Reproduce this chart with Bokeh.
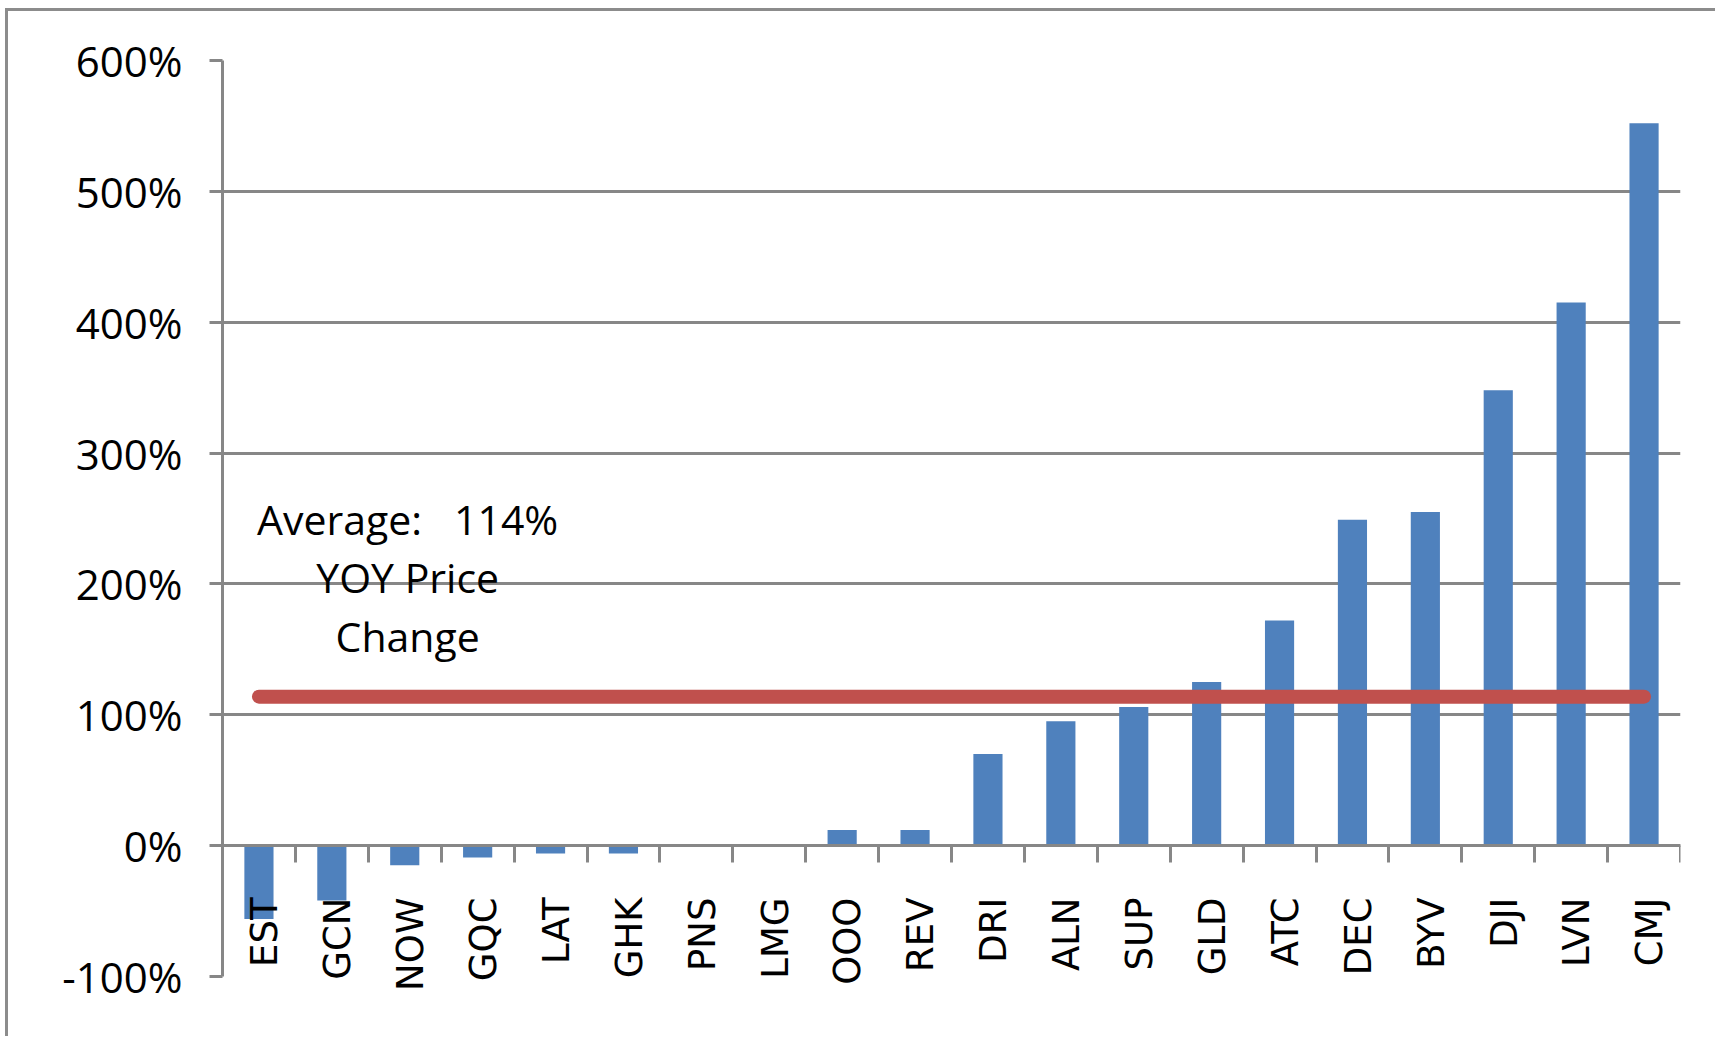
import math
from bokeh.plotting import figure
from bokeh.models import (ColumnDataSource, Range1d, LinearAxis, FixedTicker,
                          PrintfTickFormatter, Label)
from bokeh.embed import file_html
from bokeh.resources import INLINE

# ---- data ----
categories = ["EST", "GCN", "NOW", "GQC", "LAT", "GHK", "PNS", "LMG", "OOO", "REV",
              "DRI", "ALN", "SUP", "GLD", "ATC", "DEC", "BYV", "DJI", "LVN", "CMJ"]
price_change = [-56, -42, -15, -9, -6, -6, 0, 0, 12, 12,
                70, 95, 106, 125, 172, 249, 255, 348, 415, 552]
y_ticks = [-100, 0, 100, 200, 300, 400, 500, 600]

idx = list(range(len(categories)))
avg = sum(price_change) / len(price_change)

GRAY = "#878787"
BAR = "#4F81BD"
RED = "#C0504D"

src = ColumnDataSource(dict(x=idx, top=price_change))

p = figure(width=1710, height=1028, output_backend="svg", toolbar_location=None,
           x_range=Range1d(-0.5, len(categories) - 0.5), y_range=Range1d(-100, 600),
           x_axis_type=None,
           min_border_left=214, min_border_right=38, min_border_top=49,
           min_border_bottom=63)
p.outline_line_color = None
p.background_fill_color = "white"
p.border_fill_color = "white"
p.styles = {"border-left": "3px solid #8c8c8c", "border-top": "3px solid #8c8c8c",
            "margin-left": "5px", "margin-top": "8px"}

# y axis
yt = FixedTicker(ticks=y_ticks)
p.yaxis.ticker = yt
p.yaxis.formatter = PrintfTickFormatter(format="%d%%")
p.yaxis.axis_line_color = GRAY
p.yaxis.axis_line_width = 3
p.yaxis.major_tick_line_color = GRAY
p.yaxis.major_tick_line_width = 3
p.yaxis.major_tick_out = 13
p.yaxis.major_tick_in = 0
p.yaxis.minor_tick_line_color = None
p.yaxis.major_label_standoff = 27
p.yaxis.major_label_text_font = "Open Sans"
p.yaxis.major_label_text_font_size = "42px"
p.yaxis.major_label_text_color = "black"
p.ygrid.ticker = yt
p.ygrid.grid_line_color = GRAY
p.ygrid.grid_line_width = 3

# x axis line at zero with tick marks between categories (no labels)
bounds = [i + 0.5 for i in idx]
zero_axis = LinearAxis(fixed_location=0,
                       ticker=FixedTicker(ticks=[], minor_ticks=bounds),
                       major_tick_line_color=None,
                       minor_tick_out=17, minor_tick_in=0,
                       minor_tick_line_color=GRAY, minor_tick_line_width=3,
                       axis_line_color=GRAY, axis_line_width=3)
p.add_layout(zero_axis, "below")

# category labels: axis in the bottom panel, labels pulled up under the zero line
label_pos = [i + 0.08 for i in idx]   # small optical nudge of the rotated glyphs
label_axis = LinearAxis(ticker=FixedTicker(ticks=label_pos),
                        major_label_overrides={x: c for x, c in zip(label_pos, categories)},
                        major_label_orientation=math.pi / 2,
                        major_label_standoff=-79,
                        major_label_text_font="DejaVu Sans",
                        major_label_text_font_size="37px",
                        major_label_text_color="black",
                        major_tick_out=0, major_tick_in=0,
                        major_tick_line_color=None,
                        minor_tick_line_color=None,
                        axis_line_color=None)
p.add_layout(label_axis, "below")

# bars
p.vbar(x="x", top="top", bottom=0, width=0.4, source=src,
       fill_color=BAR, line_color=None)

# average line
p.line(x=[idx[0], idx[-1]], y=[avg, avg], line_color=RED, line_width=14,
       line_cap="round")

# annotation
p.add_layout(Label(x=2.04, y=205,
                   text="Average:\u00a0\u00a0 %d%%\nYOY Price\nChange" % round(avg),
                   text_align="center", text_baseline="middle",
                   text_font="Open Sans", text_font_size="41px", text_color="black",
                   text_line_height=1.05))

open("out.html", "w").write(file_html(p, INLINE))
